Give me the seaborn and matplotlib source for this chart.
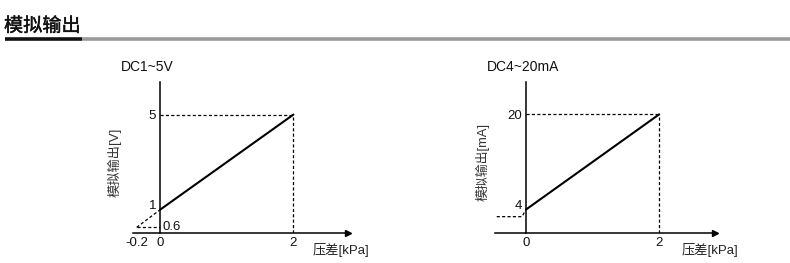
import matplotlib
matplotlib.use("Agg")
import matplotlib.pyplot as plt
import matplotlib.transforms as mtransforms
import matplotlib.patheffects as pe
import seaborn as sns

sns.set_theme(style="white")
plt.rcParams['font.family'] = ['Liberation Sans', 'Noto Sans CJK SC', 'DejaVu Sans']

# ---- data ----
title = "模拟输出"
v_x = [0, 2]
v_y = [1, 5]
v_ext_x = [-0.355, 0]
v_ext_y = [0.25, 1]
v_xticks = [-0.355, 0, 2]
v_xticklabels = ["-0.2", "0", "2"]
v_yticks = [1, 5]
v_low_label = "0.6"

ma_x = [0, 2]
ma_y = [4, 20]
ma_ext_x = [-0.44, -0.06, 0]
ma_ext_y = [2.8, 2.8, 4]
ma_xticks = [0, 2]
ma_yticks = [4, 20]

W, H = 790, 263
fig = plt.figure(figsize=(W / 100, H / 100), dpi=100)
fig.patch.set_facecolor("white")

def px(x0, y0, x1, y1):
    return [x0 / W, 1 - y1 / H, (x1 - x0) / W, (y1 - y0) / H]

cjk = ['Noto Sans CJK SC', 'DejaVu Sans']
mixed = ['Liberation Sans', 'Noto Sans CJK SC', 'DejaVu Sans']

# header
fig.text(4 / W, 1 - 31.5 / H, title, fontsize=13.8, family=cjk,
         color="#111111", ha="left", va="baseline",
         path_effects=[pe.withStroke(linewidth=0.3, foreground="#111111")])
fig.add_artist(plt.Line2D([82 / W, 1], [1 - 38.5 / H] * 2, color="#9a9a9a", lw=2.6,
                          transform=fig.transFigure, solid_capstyle="butt"))
fig.add_artist(plt.Line2D([5 / W, 82 / W], [1 - 38.5 / H] * 2, color="#111111", lw=2.6,
                          transform=fig.transFigure, solid_capstyle="butt"))

def setup(ax, xlim, ylim):
    ax.set_xlim(*xlim)
    ax.set_ylim(*ylim)
    ax.patch.set_alpha(0)
    for s in ["top", "right"]:
        ax.spines[s].set_visible(False)
    ax.spines["left"].set_position(("data", 0))
    ax.spines["bottom"].set_position(("data", 0))
    for s in ["left", "bottom"]:
        ax.spines[s].set_color("black")
        ax.spines[s].set_linewidth(1.1)
    ax.plot(1, 0, ">", color="black", markersize=5, transform=ax.get_yaxis_transform(),
            clip_on=False)
    ax.tick_params(axis="both", length=0, labelsize=9.5, colors="#111111")
    ax.tick_params(axis="x", pad=3)
    ax.tick_params(axis="y", pad=3)
    ax.set_xlabel("")
    ax.set_ylabel("")

def raise_label(ax, idx, dy_px):
    lab = ax.get_yticklabels()[idx]
    lab.set_transform(lab.get_transform() +
                      mtransforms.ScaledTranslation(0, dy_px / 100, fig.dpi_scale_trans))

dash = dict(color="black", lw=0.9, linestyle=(0, (2.5, 1.8)))

# ---- left chart (V) ----
ax1 = fig.add_axes(px(133, 82.3, 348, 233.3))
setup(ax1, (-0.41, 2.82), (0, 6.36))
sns.lineplot(x=v_x, y=v_y, ax=ax1, color="black", lw=1.5)
ax1.plot(v_ext_x, v_ext_y, **dash)
ax1.plot([v_ext_x[0], 0], [v_ext_y[0], v_ext_y[0]], **dash)
ax1.plot([0, v_x[1]], [v_y[1], v_y[1]], **dash)
ax1.plot([v_x[1], v_x[1]], [0, v_y[1]], **dash)
ax1.set_xticks(v_xticks, v_xticklabels)
ax1.set_yticks(v_yticks, [str(v) for v in v_yticks])
raise_label(ax1, 0, 5)
ax1.text(0.03, v_ext_y[0], v_low_label, fontsize=9.5, ha="left", va="center", color="#111111")
fig.text(121 / W, 1 - 67 / H, "DC1~5V", fontsize=10, ha="left", va="center", color="#111111")
fig.text(115 / W, 1 - 162 / H, "模拟输出[V]", fontsize=9.5, rotation=90, ha="center",
         va="center", color="#333333", family=mixed)
fig.text(313 / W, 1 - 250 / H, "压差[kPa]", fontsize=9.5, ha="left", va="center",
         color="#222222", family=mixed)

# ---- right chart (mA) ----
ax2 = fig.add_axes(px(495, 82.3, 715, 233.3))
setup(ax2, (-0.466, 2.84), (0, 25.4))
sns.lineplot(x=ma_x, y=ma_y, ax=ax2, color="black", lw=1.5)
ax2.plot(ma_ext_x, ma_ext_y, **dash)
ax2.plot([0, ma_x[1]], [ma_y[1], ma_y[1]], **dash)
ax2.plot([ma_x[1], ma_x[1]], [0, ma_y[1]], **dash)
ax2.set_xticks(ma_xticks, [str(v) for v in ma_xticks])
ax2.set_yticks(ma_yticks, [str(v) for v in ma_yticks])
raise_label(ax2, 0, 5)
fig.text(487 / W, 1 - 67 / H, "DC4~20mA", fontsize=10, ha="left", va="center", color="#111111")
fig.text(483 / W, 1 - 162 / H, "模拟输出[mA]", fontsize=9.3, rotation=90, ha="center",
         va="center", color="#333333", family=mixed)
fig.text(682 / W, 1 - 250 / H, "压差[kPa]", fontsize=9.5, ha="left", va="center",
         color="#222222", family=mixed)

fig.savefig("out.png", dpi=100, facecolor="white")
